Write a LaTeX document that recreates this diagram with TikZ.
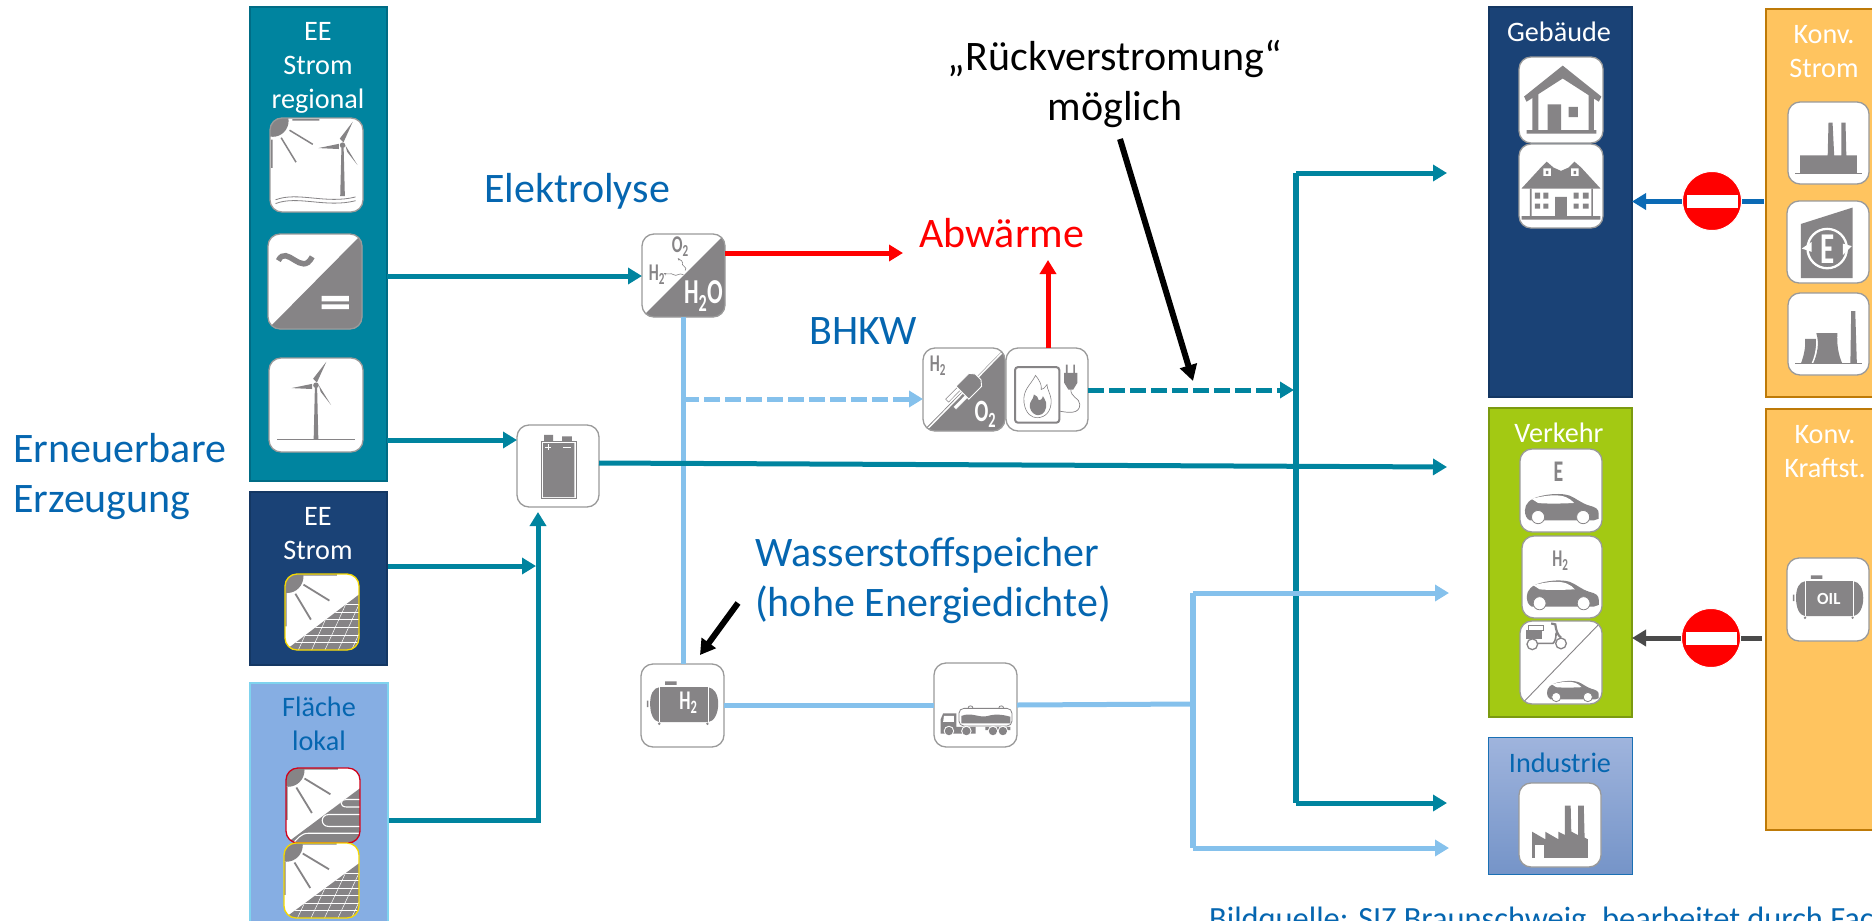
\documentclass[tikz,border=0pt]{standalone}
\usepackage{fontspec}
\setmainfont{Carlito}
\usetikzlibrary{arrows.meta,calc}
\definecolor{tealc}{HTML}{00849F}
\definecolor{tealb}{HTML}{006C85}
\definecolor{navy}{HTML}{1A4276}
\definecolor{navyb}{HTML}{143763}
\definecolor{flaeche}{HTML}{86AEE3}
\definecolor{flaecheb}{HTML}{7FD3EE}
\definecolor{lightc}{HTML}{85C1EC}
\definecolor{bluetxt}{HTML}{0566B0}
\definecolor{orangec}{HTML}{FFC45F}
\definecolor{orangeb}{HTML}{BE7A08}
\definecolor{greenc}{HTML}{A3C913}
\definecolor{greenb}{HTML}{7B9A10}
\definecolor{icongray}{HTML}{868486}
\definecolor{iconline}{HTML}{9A9A9A}
\definecolor{pvline}{HTML}{F5D800}
\definecolor{redline}{HTML}{D0021B}
\definecolor{stoparrow}{HTML}{4A4A4A}
\definecolor{indtop}{HTML}{9FB4DD}
\definecolor{indbot}{HTML}{7594C8}
\definecolor{indb}{HTML}{1A70B5}
\definecolor{convblue}{HTML}{0B6AB5}
\tikzset{
  panelbox/.style={rectangle,inner sep=0pt,outer sep=0pt,line width=2pt},
  iconbox/.style={rectangle,rounded corners=12pt,fill=white,inner sep=0pt,outer sep=0pt},
  lab/.style={font=\fontsize{28.2}{33.7}\selectfont,text=white,align=center,inner sep=0pt,anchor=base},
  big/.style={font=\fontsize{42}{50}\selectfont,text=bluetxt,align=left,inner sep=0pt,anchor=base west},
  ictxt/.style={inner sep=0pt,text=icongray},
  conn/.style={line width=5pt,-{Triangle[length=14pt,width=16pt]}},
  plain/.style={line width=5pt},
  thin gray/.style={icongray,line width=.8pt},
  stopsign/.style={circle,fill=red,draw=white,line width=1pt,minimum size=59pt,inner sep=0pt},
  stopbar/.style={rectangle,fill=white,minimum width=51pt,minimum height=13pt,inner sep=0pt}
}
\newcommand{\tnar}[2]{\scalebox{.66}[1]{\fontsize{#1}{#1}\selectfont\bfseries #2}}
\newcommand{\panelrect}[7]{%
  \pgfmathsetmacro\pcx{(#2+#4)/2}\pgfmathsetmacro\pcy{(#3+#5)/2}%
  \pgfmathsetmacro\pw{#4-#2}\pgfmathsetmacro\ph{#5-#3}%
  \node[panelbox,fill=#6,draw=#7,minimum width=\pw pt,minimum height=\ph pt] (#1) at (\pcx,\pcy) {};}
\newcommand{\icon}[7][iconline]{%
  \pgfmathsetmacro\icx{(#3+#5)/2}\pgfmathsetmacro\icy{(#4+#6)/2}%
  \pgfmathsetmacro\iw{#5-#3}\pgfmathsetmacro\ih{#6-#4}%
  \pgfmathsetmacro\isx{\iw/100}\pgfmathsetmacro\isy{\ih/100}%
  \node[iconbox,minimum width=\iw pt,minimum height=\ih pt] (#2) at (\icx,\icy) {};
  \begin{scope}[shift={(#2.north west)},xscale=\isx,yscale=\isy]
    \clip[rounded corners=11pt] (0,0) rectangle (100,100);
    #7
  \end{scope}
  \draw[#1,line width=1.3pt,rounded corners=12pt] (#2.north west) rectangle (#2.south east);}
% ---------- icon contents (box 0..100, y down)
\newcommand{\icSunPV}{%
  \fill[icongray] (3,3) circle [radius=22];
  \draw[icongray,line width=1.8pt] (25,14)--(60,35) (14,26)--(35,60) (24,1)--(70,1) (1,25)--(1,69);}
\newcommand{\icPanel}{%
  \begin{scope}
    \clip (1,100)--(100,27)--(100,100)--cycle;
    \fill[icongray] (0,0) rectangle (100,100);
    \foreach \yy in {40,50,60,70,80,90} \draw[white,line width=.5pt] (0,\yy)--(100,\yy);
    \foreach \xx in {0,18,...,100} \draw[white,line width=.5pt] (\xx,100)--(\xx+28,40);
  \end{scope}}
\newcommand{\icPV}{\icSunPV\icPanel}
\newcommand{\icThermal}{\icSunPV
  \begin{scope}
    \clip (1,100)--(100,27)--(100,100)--cycle;
    \fill[icongray] (0,0) rectangle (100,100);
    \draw[white,line width=1.1pt] (100,42)--(82,42) .. controls (72,42) and (72,52) .. (82,52)--(100,52);
    \draw[white,line width=1.1pt] (100,62)--(58,62) .. controls (46,62) and (46,78) .. (58,78)--(100,78);
    \draw[white,line width=1.1pt] (100,87)--(30,87) .. controls (20,87) and (15,95) .. (10,100);
  \end{scope}}
\newcommand{\turbine}[3]{%
  \begin{scope}[shift={(#1,#2)}]
    \fill[icongray] (-1.2,3)--(1.2,3)--(2.5,#3)--(-2.5,#3)--cycle;
    \fill[icongray] (11,-25)--(-3,-7)--(1,-3)--cycle;
    \fill[icongray] (-26,3)--(-4,-1.5)--(-4,4)--cycle;
    \fill[icongray] (16,21)--(3,0)--(5,7)--cycle;
    \fill[icongray] (0,0) circle [radius=3];
  \end{scope}}
\newcommand{\icSunWind}{%
  \fill[icongray] (3,3) circle [radius=17];
  \draw[icongray,line width=1.5pt] (21,13)--(46,28) (12,21)--(28,47) (24,2)--(53,2) (2,23)--(2,53);
  \turbine{78}{29}{54}
  \draw[thin gray] (6,87) .. controls (30,78) and (60,92) .. (92,84);
  \draw[thin gray] (6,91) .. controls (30,82) and (60,96) .. (92,88);}
\newcommand{\icWind}{\turbine{50}{29}{58}\draw[icongray,line width=1.2pt] (9,87)--(91,87);}
\newcommand{\icACDC}{%
  \fill[icongray] (0,100)--(100,0)--(100,100)--cycle;
  \draw[icongray,line width=5.5pt] (11,28) .. controls (20,10) and (36,46) .. (47,24);
  \fill[white] (57,65) rectangle (86,71) (57,74) rectangle (86,79);}
\newcommand{\icBattery}{%
  \draw[icongray,line width=.7pt] (30,20) rectangle (72,90);
  \fill[icongray] (32,22) rectangle (70,88) (33,12) rectangle (44,20) (55,14) rectangle (67,20);
  \draw[white,line width=.7pt] (34,27)--(42,27) (38,23)--(38,31) (56,27)--(66,27);}
\newcommand{\icElec}{%
  \fill[icongray] (0,100)--(100,0)--(100,100)--cycle;
  \node[ictxt,text=white] (tH2O) at (74,75) {\tnar{35}{H\textsubscript{2}O}};
  \node[ictxt] (tO2) at (46,15) {\tnar{24}{O\textsubscript{2}}};
  \node[ictxt] (tH2) at (18,49) {\tnar{24}{H\textsubscript{2}}};
  \draw[icongray,line width=.6pt,-{Stealth[length=3pt]}] (50,49) .. controls (44,46) and (42,52) .. (38,49) .. controls (34,46) and (32,50) .. (26,47);
  \draw[icongray,line width=.6pt,-{Stealth[length=3pt]}] (52,44) .. controls (56,40) and (46,38) .. (49,35) .. controls (50,32) and (46,32) .. (43,29);}
\newcommand{\icPlug}{%
  \fill[icongray] (0,100)--(100,0)--(100,100)--cycle;
  \draw[white,line width=1.5pt] (5,98)--(96,6);
  \node[ictxt] (tpH2) at (18,21) {\tnar{24}{H\textsubscript{2}}};
  \node[ictxt,text=white] (tpO2) at (76,80) {\tnar{31}{O\textsubscript{2}}};
  \begin{scope}[shift={(58,44)},rotate=45]
    \draw[icongray,fill=white,line width=.5pt] (-34,4) rectangle (-13,9) (-34,-9) rectangle (-13,-4);
    \draw[white,fill=icongray,line width=.9pt] (-14,-11)--(8,-11)--(13,-5)--(13,5)--(8,11)--(-14,11)--cycle;
  \end{scope}}
\newcommand{\icBurner}{%
  \draw[icongray,line width=2pt,rounded corners=3pt] (11,23) rectangle (65,90);
  \draw[icongray,line width=.6pt] (36,33) .. controls (30,45) and (20,50) .. (22,66) .. controls (24,80) and (32,84) .. (38,84) .. controls (48,84) and (56,76) .. (55,62) .. controls (54,54) and (50,50) .. (50,44) .. controls (47,48) and (45,50) .. (43,50) .. controls (44,44) and (40,38) .. (36,33) -- cycle;
  \fill[icongray] (34,56) .. controls (34,62) and (28,64) .. (29,71) .. controls (30,78) and (36,81) .. (39,81) .. controls (46,81) and (50,74) .. (49,66) .. controls (48,62) and (46,60) .. (45,58) .. controls (44,62) and (42,63) .. (40,63) .. controls (40,60) and (37,57) .. (34,56) -- cycle;
  \fill[icongray] (73,20) rectangle (75,30) (82,20) rectangle (84,30);
  \fill[icongray] (71,30)--(87,30)--(87,42)--(82,50)--(76,50)--(71,42)--cycle;
  \draw[icongray,line width=.7pt] (79,50) .. controls (79,60) and (90,60) .. (90,68) .. controls (90,80) and (76,78) .. (65,76);}
\newcommand{\icTank}[1]{%
  \fill[icongray] (11,48) .. controls (11,36) and (15,29) .. (22,28) -- (81,28) .. controls (88,29) and (93,36) .. (93,48) .. controls (93,60) and (88,69) .. (81,70) -- (22,70) .. controls (15,69) and (11,60) .. (11,48) -- cycle;
  \draw[white,line width=.6pt] (22,28)--(22,70) (81,28)--(81,70);
  \fill[icongray] (29,21) rectangle (43,25) (7,44) rectangle (9,52);
  \fill[icongray] (22,72) circle [radius=1.6] (80,72) circle [radius=1.6];
  #1}
\newcommand{\icTruck}{%
  \draw[icongray,line width=.8pt,rounded corners=5pt] (30,54) rectangle (94,75);
  \fill[icongray] (33,63) .. controls (45,58) and (55,66) .. (65,63) .. controls (75,60) and (85,62) .. (92,64) -- (92,72) -- (33,72) -- cycle;
  \draw[thin gray] (41,54) .. controls (41,50) and (47,50) .. (47,54) (78,54) .. controls (78,50) and (84,50) .. (84,54);
  \fill[icongray] (8,67)--(11,60)--(27,60)--(27,76)--(50,76)--(50,84)--(8,84)--cycle (62,76) rectangle (92,80);
  \fill[white] (12,63)--(24,63)--(24,70)--(11,70)--cycle;
  \foreach \xx in {18,39,71,83} {\fill[white] (\xx,81) circle [radius=6.3]; \fill[icongray] (\xx,81) circle [radius=5];}}
\newcommand{\icHouse}{%
  \fill[icongray] (52,10)--(98,46)--(95,52)--(52,25)--(9,52)--(6,46)--cycle;
  \fill[icongray] (16,43) rectangle (23,85) (83,43) rectangle (89,85) (34,55) rectangle (50,85) (59,58) rectangle (70,70) (9,85) rectangle (92,89);}
\newcommand{\icVilla}{%
  \fill[icongray] (3,53)--(26,28)--(33,21)--(41,28)--(50,32)--(59,28)--(66,21)--(74,28)--(97,53)--cycle;
  \fill[white] (29,29) rectangle (38,38) (62,29) rectangle (71,38);
  \fill[icongray] (32,32) rectangle (35,36) (65,32) rectangle (68,36);
  \fill[icongray] (13,53) rectangle (15,86) (86,53) rectangle (88,86);
  \fill[icongray] (19,58) rectangle (25,65) (29,58) rectangle (35,65) (19,71) rectangle (25,77) (29,71) rectangle (35,77);
  \fill[icongray] (65,58) rectangle (71,65) (76,58) rectangle (83,65) (65,71) rectangle (71,77) (76,71) rectangle (83,77);
  \fill[icongray] (43,63) rectangle (57,86) (3,86) rectangle (97,90);}
\newcommand{\icCarBody}{%
  \fill[icongray] (6,74) .. controls (6,66) and (12,60) .. (24,57) .. controls (36,54) and (50,53) .. (60,56) .. controls (68,59) and (74,65) .. (84,68) .. controls (92,70) and (96,72) .. (96,78) -- (96,84) -- (90,86) -- (12,86) .. controls (8,84) and (6,80) .. (6,74) -- cycle;
  \fill[white] (14,60) .. controls (30,56) and (46,54) .. (56,58) .. controls (60,60) and (64,62) .. (66,65) .. controls (50,66) and (30,66) .. (22,65) -- cycle;
  \draw[icongray,fill=white,line width=.8pt] (22,82) circle [radius=8] (77,82) circle [radius=8];}
\newcommand{\icCarE}{\icCarBody\node[ictxt] (tE) at (47,28) {\tnar{30}{E}};}
\newcommand{\icCarH}{\icCarBody\node[ictxt] (tcH2) at (48,30) {\tnar{24}{H\textsubscript{2}}};}
\newcommand{\icScooter}{%
  \draw[icongray,line width=.9pt] (4,98)--(97,3);
  \fill[icongray] (7,11) rectangle (27,22);
  \draw[icongray,line width=.7pt] (10,5) rectangle (28,11);
  \draw[icongray,line width=2.2pt] (38,3)--(43,4) .. controls (44,12) and (46,17) .. (50,20);
  \draw[icongray,line width=1.6pt] (15,27)--(40,27) .. controls (43,25) and (44,20) .. (44,14);
  \draw[icongray,fill=white,line width=1.3pt] (15,28) circle [radius=6.5] (50,27) circle [radius=6.5];
  \begin{scope}[shift={(28.8,34.2)},scale=.7]\icCarBody\end{scope}}
\newcommand{\icFactory}{%
  \fill[icongray] (16,89)--(16,58)--(32,67)--(32,58)--(48,67)--(48,58)--(56,62)--(56,27)--(63,27)--(64,67)--(64,58)--(72,62)--(72,27)--(79,27)--(80,65)--(84,67)--(84,89)--cycle;
  \fill[white] (19,74) rectangle (31,89);}
\newcommand{\icPlant}{%
  \fill[icongray] (50,25)--(55,25)--(57,65)--(66,65)--(66,25)--(71,25)--(72,65)--(85,65)--(85,87)--(15,87)--(15,65)--(49,65)--cycle;
  \draw[icongray,line width=.8pt] (9,87)--(91,87);}
\newcommand{\icEWaste}{%
  \fill[icongray] (17,28)--(80,8)--(80,94)--(17,94)--cycle;
  \draw[white,line width=2.3pt] (49,58) circle [radius=24];
  \fill[white] (18,58)--(30,50)--(30,62)--cycle (79,55)--(68,52)--(68,66)--cycle;
  \node[ictxt,text=white] (tEw) at (49,59) {\tnar{44}{E}};}
\newcommand{\icNuclear}{%
  \fill[icongray] (16,86) .. controls (20,75) and (22,65) .. (21,56) -- (35,56) -- (35,86) -- cycle;
  \fill[white] (29,86) .. controls (34,75) and (36,62) .. (34,50) -- (36,50) -- (36,86) -- cycle;
  \fill[icongray] (31,86) .. controls (36,75) and (39,62) .. (35,49) -- (61,49) .. controls (60,62) and (62,75) .. (67,86) -- cycle;
  \fill[icongray] (78,22)--(83,22)--(85,86)--(77,86)--cycle;
  \draw[icongray,line width=.8pt] (9,86)--(91,86);}

\begin{document}
\begin{tikzpicture}[x=1pt,y=-1pt]
\clip (0,0) rectangle (1872,921);
\useasboundingbox (0,0) rectangle (1872,921);
% ---------- panels
\panelrect{regional}{250}{7}{387}{481}{tealc}{tealb}
\panelrect{eestrom}{250}{492}{387}{665}{navy}{navyb}
\panelrect{flae}{250}{683}{388}{940}{flaeche}{flaecheb}
\panelrect{gebaeude}{1489}{7}{1632}{397}{navy}{navyb}
\panelrect{verkehr}{1489}{408}{1632}{717}{greenc}{greenb}
\node[panelbox,top color=indtop,bottom color=indbot,draw=indb,line width=1.5pt,minimum width=144pt,minimum height=137pt] (industrie) at (1560.5,806) {};
\panelrect{konvs}{1766}{9}{1890}{397}{orangec}{orangeb}
\panelrect{konvk}{1766}{409}{1890}{830}{orangec}{orangeb}
% ---------- junction and free-end points
\coordinate (pAC) at (387,276);
\coordinate (pWind) at (387,440);
\coordinate (pEE) at (388,566);
\coordinate (pEEend) at (536,566);
\coordinate (pFl) at (389,820);
\coordinate (pTrunk) at (538,820);
\coordinate (pTrunkTip) at (538,512);
\coordinate (pBatOut) at (599,463);
\coordinate (pVerk) at (1447,467);
\coordinate (pAb) at (903,253);
\coordinate (pAbUp) at (1048,260);
\coordinate (pJ) at (683,399);
\coordinate (pDashEnd) at (1294,390);
\coordinate (pT0) at (1296,173);
\coordinate (pT1) at (1296,803);
\coordinate (pTa) at (1447,173);
\coordinate (pTb) at (1447,803);
\coordinate (pL0) at (1193,593);
\coordinate (pL1) at (1193,848);
\coordinate (pLm) at (1193,704);
\coordinate (pLa) at (1449,593);
\coordinate (pLb) at (1449,848);
\coordinate (pTankOut) at (724,705);
\coordinate (pTruckOut) at (1017,705);
\coordinate (pK1) at (1120,139);
\coordinate (pK2) at (1193,381);
\coordinate (pW1) at (738,603);
\coordinate (pW2) at (700,655);
\coordinate (pS1) at (1764,201.5);
\coordinate (pS1e) at (1632,201.5);
\coordinate (pS2) at (1762,638);
\coordinate (pS2e) at (1632,638);
% ---------- icon nodes
\icon{isw}{270}{118}{363}{212}{\icSunWind}
\icon{iac}{268}{234}{362}{329}{\icACDC}
\icon{iwind}{269}{358}{363}{452}{\icWind}
\icon[pvline]{ipv}{285}{574}{359}{650}{\icPV}
\icon[redline]{ith}{286}{768}{360}{843}{\icThermal}
\icon[pvline]{ipv2}{284}{843}{359}{918}{\icPV}
\icon{bat}{517}{425}{599}{507}{\icBattery}
\icon{elec}{642}{234}{725}{317}{\icElec}
\icon{plug}{923}{348}{1005}{431}{\icPlug}
\icon{burn}{1006}{348}{1088}{431}{\icBurner}
\icon{tank}{641}{664}{724}{747}{\icTank{\node[ictxt,text=white] (ttH2) at (57,47) {\tnar{27}{H\textsubscript{2}}};}}
\icon{truck}{934}{663}{1017}{747}{\icTruck}
\icon{ihouse}{1519}{57}{1603}{143}{\icHouse}
\icon{ivilla}{1519}{144}{1603}{228}{\icVilla}
\icon{icare}{1520}{449}{1602}{532}{\icCarE}
\icon{icarh}{1522}{536}{1602}{618}{\icCarH}
\icon{iscoot}{1520}{621}{1602}{704}{\icScooter}
\icon{ifac}{1519}{783}{1601}{867}{\icFactory}
\icon{iplant}{1788}{102}{1869}{184}{\icPlant}
\icon{iewaste}{1787}{201}{1869}{283}{\icEWaste}
\icon{inuc}{1788}{293}{1869}{375}{\icNuclear}
\icon{ioil}{1787}{558}{1869}{641}{\icTank{\node[ictxt,text=white] (toil) at (51,49) {\fontsize{17}{17}\selectfont\bfseries OIL};}}
% ---------- connectors
\draw[plain,lightc] (elec.south -| pJ) -- (tank.north -| pJ);
\draw[conn,lightc,dash pattern=on 16pt off 5pt] (pJ) -- (plug.west |- pJ);
\draw[conn,tealc] (regional.east |- pAC) -- (elec.west |- pAC);
\draw[conn,tealc] (regional.east |- pWind) -- (bat.west |- pWind);
\draw[conn,tealc] (pEE) -- (pEEend);
\draw[conn,tealc] (pFl) -- (pTrunk) -- (pTrunkTip);
\draw[conn,tealc] (pBatOut) -- (pVerk);
\draw[conn,tealc,dash pattern=on 16pt off 5pt] (burn.east |- pDashEnd) -- (pDashEnd);
\draw[conn,tealc] (pTa -| pT0) -- (pTa);
\draw[conn,tealc] (pTb -| pT1) -- (pTb);
\draw[tealc,line width=6pt] (pT0) -- (pT1);
\draw[plain,lightc] (pTankOut) -- (truck.west |- pTankOut);
\draw[plain,lightc] (pTruckOut) -- (pLm);
\draw[line width=6pt,lightc] (pL0) -- (pL1);
\draw[conn,lightc] (pL0) -- (pLa);
\draw[conn,lightc] (pL1) -- (pLb);
\draw[conn,red] (elec.east |- pAb) -- (pAb);
\draw[conn,red] (burn.north -| pAbUp) -- (pAbUp);
\draw[line width=6pt,black,-{Triangle[length=16pt,width=17pt]}] (pK1) -- (pK2);
\draw[line width=6pt,black,-{Triangle[length=15pt,width=17pt]}] (pW1) -- (pW2);
\draw[conn,convblue] (pS1) -- (pS1e);
\draw[conn,stoparrow] (pS2) -- (pS2e);
% ---------- no-entry signs
\node[stopsign] (stopa) at (1712,201) {};
\node[stopbar] (bara) at (stopa) {};
\node[stopsign] (stopb) at (1711,638) {};
\node[stopbar] (barb) at (stopb) {};
% ---------- labels
\node[lab] (lreg) at (318,108) {EE\\Strom\\regional};
\node[lab] (lee) at (318,559) {EE\\Strom};
\node[lab,text=bluetxt] (lfl) at (319,750) {Fläche\\lokal};
\node[lab] (lgeb) at (1559,41) {Gebäude};
\node[lab] (lkonv1) at (1824,77) {Konv.\\Strom};
\node[lab] (lverk) at (1559,442) {Verkehr};
\node[lab,text=bluetxt] (lind) at (1560,772) {Industrie};
\node[lab] (lkonv2) at (1825,477) {Konv.\\Kraftst.};
\node[big] (lerz) at (13,512) {Erneuerbare\\Erzeugung};
\node[big] (lelek) at (484,202) {Elektrolyse};
\node[big] (lbhkw) at (809,344) {BHKW};
\node[big,text=red] (labw) at (919,247) {Abwärme};
\node[big] (lwss) at (755,616) {Wasserstoffspeicher\\(hohe Energiedichte)};
\node[big,text=black,align=center,anchor=base] (lrueck) at (1115,120) {„Rückverstromung“\\möglich};
\node[inner sep=0pt,anchor=base west,text=bluetxt,font=\fontsize{32.4}{32.4}\selectfont] (lquelle) at (1209,929) {Bildquelle: SIZ Braunschweig, bearbeitet durch Fac};
\end{tikzpicture}
\end{document}
